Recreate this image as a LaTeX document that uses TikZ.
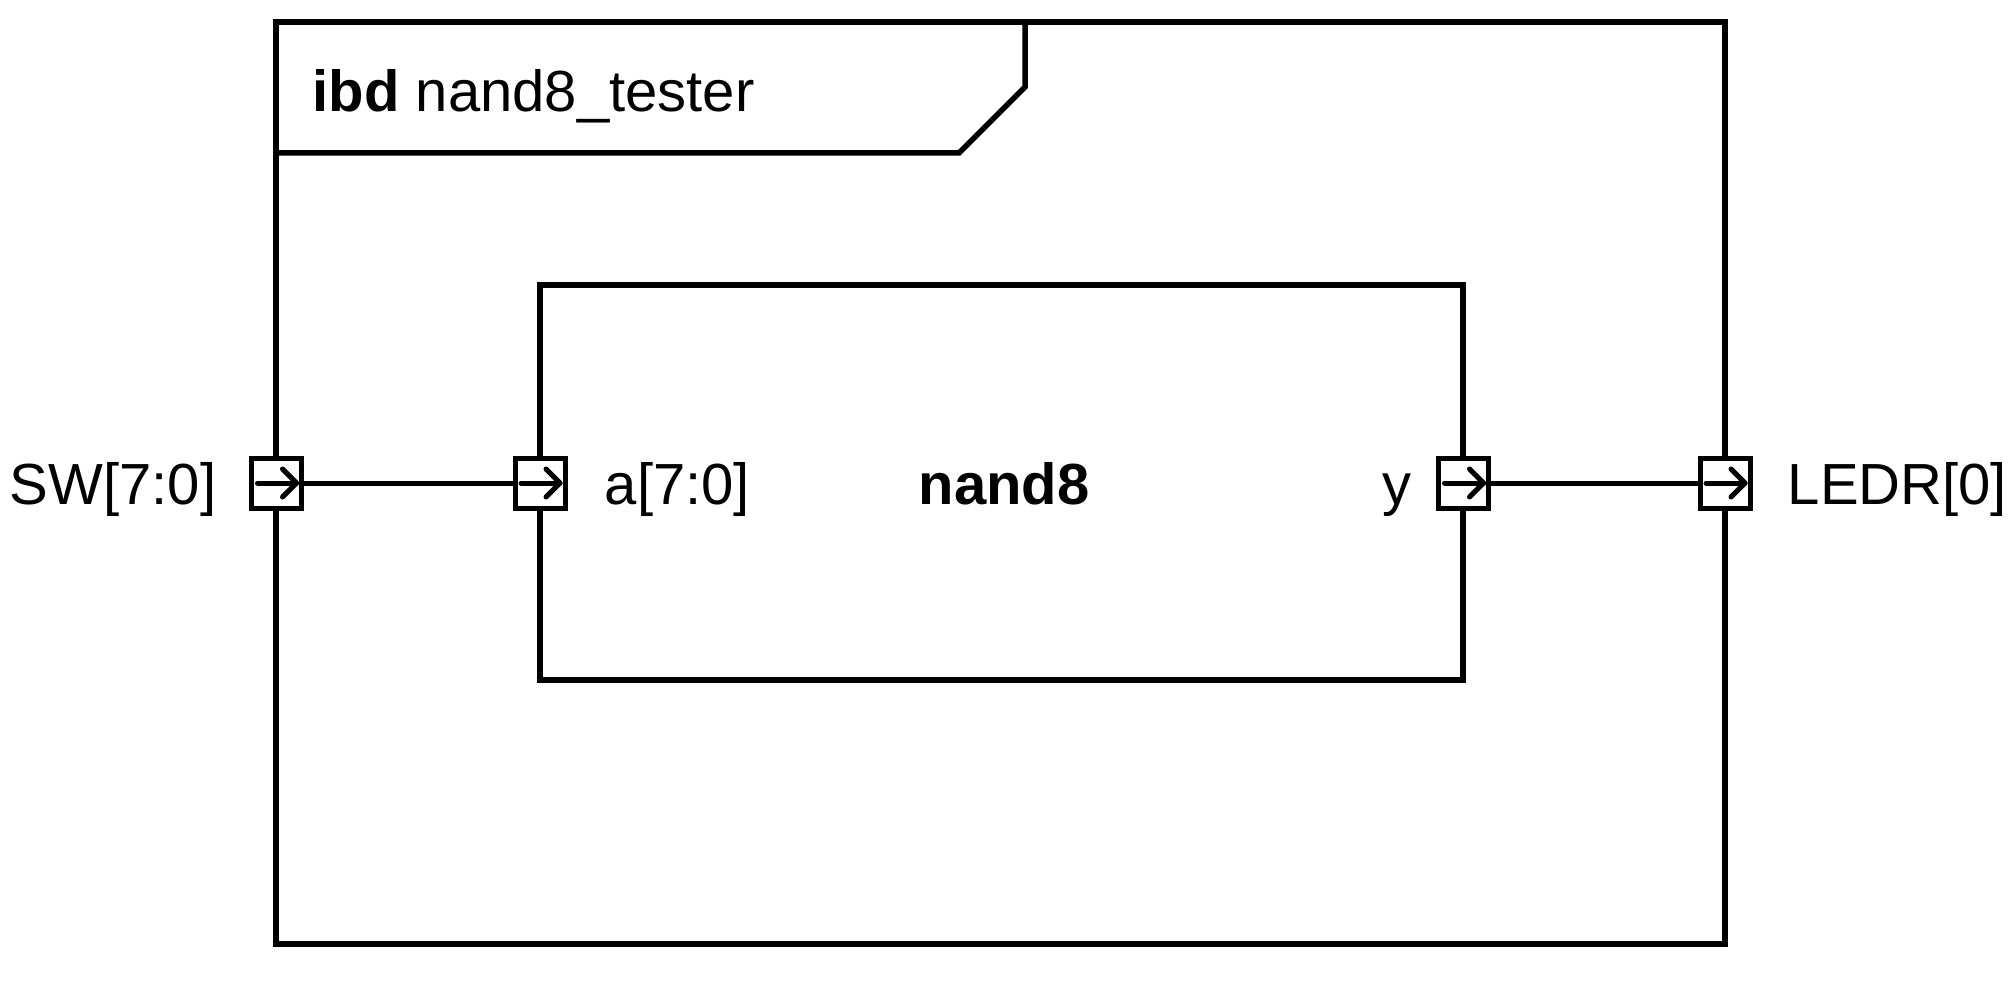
\documentclass[tikz,border=0pt]{standalone}
\usepackage{fontspec}
\setmainfont{Liberation Sans}
\begin{document}
\begin{tikzpicture}[x=1pt,y=-1pt,line width=5.5pt,
  lbl/.style={font=\fontsize{58}{68}\selectfont, inner sep=0pt},
  box/.style={draw, line width=5.5pt, inner sep=0pt},
  port/.style={draw, fill=white, minimum size=50pt, inner sep=0pt, line width=5pt},
  flow/.style={line width=5pt, line cap=round, line join=round}]
\useasboundingbox (0,0) rectangle (2016,984);
% frame
\node[box, minimum width=1449pt, minimum height=922pt] (frame) at (1000.5,483) {};
\draw[line join=miter] (276,153) -- (959,153) -- (1025,87) -- (1025,22);
\node[lbl, anchor=base west] (title) at (310,112) {\textbf{ibd} nand8\_tester};
% inner block
\node[box, minimum width=923pt, minimum height=395pt] (blk) at (1001.5,482.5) {};
\node[lbl, anchor=base, font=\fontsize{58}{68}\selectfont\bfseries] (blkname) at (1004,504) {nand8};
% ports
\node[port] (swp) at (276.5,483) {};
\node[port] (ap) at (540,483) {};
\node[port] (yp) at (1463.5,483) {};
\node[port] (ledrp) at (1725,483) {};
\foreach \p in {swp,ap,yp,ledrp}{
  \draw[flow] ([xshift=-19pt]\p.center) -- ([xshift=20pt]\p.center);
  \draw[flow] ([xshift=6pt,yshift=14pt]\p.center) -- ([xshift=20pt]\p.center) -- ([xshift=6pt,yshift=-14pt]\p.center);
}
% connectors
\draw[line width=5pt] (swp.east) -- (ap.west);
\draw[line width=5pt] (yp.east) -- (ledrp.west);
% labels
\node[lbl, anchor=base east] (swl) at (219,504) {SW[7:0]};
\node[lbl, anchor=base west] (al) at (602,504) {a[7:0]};
\node[lbl, anchor=base east] (yl) at (1414,504) {y};
\node[lbl, anchor=base west] (ledrl) at (1785,504) {LEDR[0]};
\end{tikzpicture}
\end{document}
